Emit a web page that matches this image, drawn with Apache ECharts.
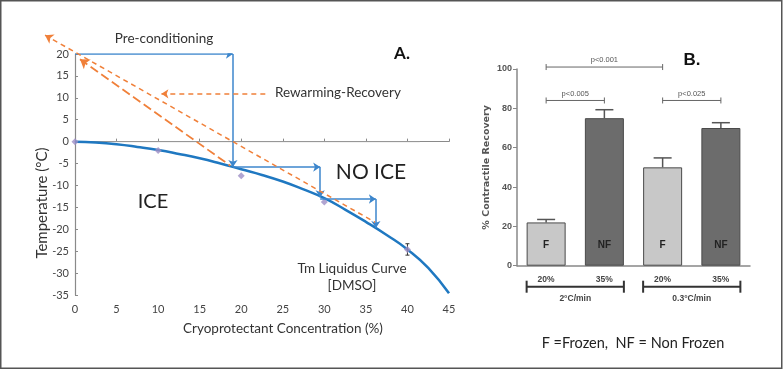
<!DOCTYPE html>
<html>
<head>
<meta charset="utf-8">
<script src="https://cdn.jsdelivr.net/npm/echarts@6/dist/echarts.min.js"></script>
<style>
  html, body { margin: 0; padding: 0; background: #fff; }
  #chart { width: 783px; height: 370px; }
</style>
</head>
<body>
<div id="chart"></div>
<script>
// ---- Panel A: liquidus curve (DMSO) ----
const curveX = [0, 2.5, 5, 7.5, 10, 12.5, 15, 17.5, 20, 22.5, 25, 27.5, 30, 32.5, 35, 37.5, 40, 42.5, 45];
const curveY = [0, -0.2, -0.6, -1.2, -1.9, -2.8, -3.8, -5.0, -6.3, -7.6, -9.1, -10.9, -12.9, -15.5, -18.3, -21.3, -24.6, -28.8, -34.6];
const measX = [0, 10, 20, 30, 40];
const measY = [0, -2, -7.8, -13.8, -24.6];
const measErr = [0, 0, 0, 0, 1.3];
// blue stepwise pre-conditioning path [x1, y1, x2, y2]
const stepSegs = [
  [0, 20, 19, 20],
  [19, 20, 19, -5.8],
  [19, -5.8, 29.5, -5.8],
  [29.5, -5.8, 29.5, -12.7],
  [29.5, -13.1, 36.2, -13.1],
  [36.2, -13.1, 36.2, -19.7]
];
// orange rewarming lines [x1, y1, x2, y2], arrow at the first point
const warmShort = [-3.6, 24.3, 36.1, -18.4];
const warmLong = [0.6, 18.8, 18.7, -5.5];
const warmLabelArrow = [22.9, 10.9, 10.4, 10.9];
const zeroLine = [[0, 0], [41.5, 0]];

// ---- Panel B: contractile recovery ----
const barCats = ['20%', '35%', '20%', '35%'];
const barMeans = [22, 75, 50, 70];
const barErrs = [1.5, 4.3, 4.8, 2.7];
const barLetters = ['F', 'NF', 'F', 'NF'];
const barFrozen = [true, false, true, false];
const groupNames = ['2°C/min', '0.3°C/min'];
const sigFrom = [0, 0, 2];
const sigTo = [2, 1, 3];
const sigY = [101, 84, 84];
const sigText = ['p<0.001', 'p<0.005', 'p<0.025'];

const FONT_A = 'Lato, "Open Sans", sans-serif';
const FONT_B = 'Arial, "Liberation Sans", sans-serif';
const FONT_B_WIDE = '"DejaVu Sans", Arial, sans-serif';
const BAR_W = 39;

const chart = echarts.init(document.getElementById('chart'));

const seg = (s) => ({ coords: [[s[0], s[1]], [s[2], s[3]]] });

chart.setOption({
  animation: false,
  grid: [
    { left: 75, right: 334, top: 54, bottom: 75 },
    { left: 517, right: 33, top: 69, bottom: 104.3 }
  ],
  xAxis: [
    {
      gridIndex: 0, type: 'value', min: 0, max: 45, interval: 5,
      axisLine: { lineStyle: { color: '#8a8a8a', width: 1.2 } },
      axisTick: { inside: true, length: 3, lineStyle: { color: '#8a8a8a' } },
      axisLabel: { color: '#444', fontSize: 11, fontFamily: FONT_A, margin: 9 },
      splitLine: { show: false }
    },
    {
      gridIndex: 1, type: 'category', data: barCats,
      axisLine: { lineStyle: { color: '#888', width: 1.5 } },
      axisTick: { show: false },
      axisLabel: { color: '#444', fontSize: 8.5, fontWeight: 'bold', fontFamily: FONT_B, margin: 9 }
    }
  ],
  yAxis: [
    {
      gridIndex: 0, type: 'value', min: -35, max: 20, interval: 5,
      axisLine: { show: true, lineStyle: { color: '#8a8a8a', width: 1.2 } },
      axisTick: { show: true, inside: true, length: 3, lineStyle: { color: '#8a8a8a' } },
      axisLabel: { color: '#444', fontSize: 11, fontFamily: FONT_A, margin: 6 },
      splitLine: { show: false }
    },
    {
      gridIndex: 1, type: 'value', min: 0, max: 100, interval: 20,
      name: '% Contractile Recovery', nameLocation: 'middle', nameGap: 25,
      nameTextStyle: { color: '#555', fontSize: 9.5, fontWeight: 'bold', fontFamily: FONT_B_WIDE },
      axisLine: { show: true, lineStyle: { color: '#888', width: 1.5 } },
      axisTick: { show: true, length: 4, lineStyle: { color: '#888' } },
      axisLabel: { color: '#555', fontSize: 9, fontWeight: 'bold', fontFamily: FONT_B, margin: 5 },
      splitLine: { show: false }
    }
  ],
  series: [
    {
      type: 'line', xAxisIndex: 0, yAxisIndex: 0, data: zeroLine,
      showSymbol: false, lineStyle: { color: '#9a9a9a', width: 1 }, z: 1
    },
    {
      type: 'line', xAxisIndex: 0, yAxisIndex: 0, smooth: true,
      data: curveX.map((x, i) => [x, curveY[i]]),
      showSymbol: false, lineStyle: { color: '#1f78c1', width: 2.5 }, z: 3
    },
    {
      type: 'scatter', xAxisIndex: 0, yAxisIndex: 0, symbol: 'diamond', symbolSize: 7,
      data: measX.map((x, i) => [x, measY[i]]),
      itemStyle: { color: '#9d8fc6' }, z: 4
    },
    {
      type: 'custom', xAxisIndex: 0, yAxisIndex: 0, z: 4,
      data: measX.map((x, i) => [x, measY[i], measErr[i]]).filter(d => d[2] > 0),
      renderItem: (params, api) => {
        const lo = api.coord([api.value(0), api.value(1) - api.value(2)]);
        const hi = api.coord([api.value(0), api.value(1) + api.value(2)]);
        const st = { stroke: '#333', lineWidth: 1 };
        return { type: 'group', children: [
          { type: 'line', shape: { x1: lo[0], y1: lo[1], x2: hi[0], y2: hi[1] }, style: st },
          { type: 'line', shape: { x1: lo[0] - 2, y1: lo[1], x2: lo[0] + 2, y2: lo[1] }, style: st },
          { type: 'line', shape: { x1: hi[0] - 2, y1: hi[1], x2: hi[0] + 2, y2: hi[1] }, style: st }
        ] };
      }
    },
    {
      type: 'lines', coordinateSystem: 'cartesian2d', xAxisIndex: 0, yAxisIndex: 0,
      data: stepSegs.map(seg), symbol: ['none', 'arrow'], symbolSize: 7,
      lineStyle: { color: '#3c86cc', width: 1.5, opacity: 1 }, z: 5
    },
    {
      type: 'lines', coordinateSystem: 'cartesian2d', xAxisIndex: 0, yAxisIndex: 0, clip: false,
      data: [seg(warmShort)], symbol: ['arrow', 'none'], symbolSize: 8,
      lineStyle: { color: '#f0803a', width: 1.5, type: [5, 4], opacity: 1 }, z: 5
    },
    {
      type: 'lines', coordinateSystem: 'cartesian2d', xAxisIndex: 0, yAxisIndex: 0, clip: false,
      data: [seg(warmLong)], symbol: ['arrow', 'none'], symbolSize: 9,
      lineStyle: { color: '#f0803a', width: 1.8, type: [9, 4], opacity: 1 }, z: 5
    },
    {
      type: 'lines', coordinateSystem: 'cartesian2d', xAxisIndex: 0, yAxisIndex: 0, clip: false,
      data: [seg(warmLabelArrow)], symbol: ['none', 'arrow'], symbolSize: 7,
      lineStyle: { color: '#f0803a', width: 1.5, type: [5, 4], opacity: 1 }, z: 5
    },

    // ---- Panel B ----
    {
      type: 'bar', xAxisIndex: 1, yAxisIndex: 1, barWidth: BAR_W,
      data: barMeans.map((v, i) => ({
        value: v,
        itemStyle: { color: barFrozen[i] ? '#c8c8c8' : '#6c6c6c', borderColor: '#4a4a4a', borderWidth: 1 }
      })),
      label: {
        show: true, position: 'insideBottom', distance: 15,
        formatter: (p) => barLetters[p.dataIndex],
        color: '#222', fontSize: 10, fontWeight: 'bold', fontFamily: FONT_B
      },
      z: 3
    },
    {
      type: 'custom', xAxisIndex: 1, yAxisIndex: 1, z: 2,
      data: barMeans.map((v, i) => [i, v, barErrs[i]]),
      renderItem: (params, api) => {
        const base = api.coord([api.value(0), api.value(1)]);
        const top = api.coord([api.value(0), api.value(1) + api.value(2)]);
        const st = { stroke: '#555', lineWidth: 1.5 };
        return { type: 'group', children: [
          { type: 'line', shape: { x1: base[0], y1: base[1], x2: top[0], y2: top[1] }, style: st },
          { type: 'line', shape: { x1: top[0] - 9, y1: top[1], x2: top[0] + 9, y2: top[1] }, style: st }
        ] };
      }
    },
    {
      type: 'custom', xAxisIndex: 1, yAxisIndex: 1, clip: false, z: 4,
      data: sigFrom.map((f, i) => [f, sigTo[i], sigY[i]]),
      encode: { x: [0, 1], y: 2 },
      renderItem: (params, api) => {
        const a = api.coord([api.value(0), api.value(2)]);
        const b = api.coord([api.value(1), api.value(2)]);
        const st = { stroke: '#666', lineWidth: 1 };
        return { type: 'group', children: [
          { type: 'line', shape: { x1: a[0], y1: a[1], x2: b[0], y2: b[1] }, style: st },
          { type: 'line', shape: { x1: a[0], y1: a[1] - 3, x2: a[0], y2: a[1] + 3 }, style: st },
          { type: 'line', shape: { x1: b[0], y1: b[1] - 3, x2: b[0], y2: b[1] + 3 }, style: st },
          { type: 'text', x: (a[0] + b[0]) / 2, y: a[1] - 7,
            style: { text: sigText[params.dataIndex], fill: '#555', font: '7.5px ' + FONT_B, align: 'center', verticalAlign: 'middle' } }
        ] };
      }
    },
    {
      type: 'custom', xAxisIndex: 1, yAxisIndex: 1, clip: false, z: 4,
      data: [[0, 1, 0], [2, 3, 0]],
      encode: { x: [0, 1], y: 2 },
      renderItem: (params, api) => {
        const a = api.coord([api.value(0), api.value(2)]);
        const b = api.coord([api.value(1), api.value(2)]);
        const x1 = a[0] - BAR_W / 2, x2 = b[0] + BAR_W / 2, y = a[1] + 21;
        const st = { stroke: '#333', lineWidth: 2 };
        return { type: 'group', children: [
          { type: 'line', shape: { x1, y1: y, x2, y2: y }, style: st },
          { type: 'line', shape: { x1, y1: y - 6, x2: x1, y2: y + 6 }, style: st },
          { type: 'line', shape: { x1: x2, y1: y - 6, x2: x2, y2: y + 6 }, style: st },
          { type: 'text', x: (x1 + x2) / 2, y: y + 12,
            style: { text: groupNames[params.dataIndex], fill: '#444', font: 'bold 8.5px ' + FONT_B, align: 'center', verticalAlign: 'middle' } }
        ] };
      }
    }
  ],
  graphic: [
    { type: 'rect', shape: { x: 0.75, y: 0.75, width: 781, height: 367.5 },
      style: { fill: 'none', stroke: '#555', lineWidth: 1.5 } },
    { type: 'text', x: 42, y: 203, rotation: Math.PI / 2,
      style: { text: 'Temperature (°C)', fill: '#333', font: '15px ' + FONT_A, align: 'center', verticalAlign: 'middle' } },
    { type: 'text', x: 283, y: 329,
      style: { text: 'Cryoprotectant Concentration (%)', fill: '#333', font: '13.5px ' + FONT_A, align: 'center', verticalAlign: 'middle' } },
    { type: 'text', x: 164, y: 39,
      style: { text: 'Pre-conditioning', fill: '#333', font: '13.5px ' + FONT_A, align: 'center', verticalAlign: 'middle' } },
    { type: 'text', x: 275, y: 93,
      style: { text: 'Rewarming-Recovery', fill: '#333', font: '13.5px ' + FONT_A, align: 'left', verticalAlign: 'middle' } },
    { type: 'text', x: 402, y: 54,
      style: { text: 'A.', fill: '#111', font: 'bold 17px ' + FONT_A, align: 'center', verticalAlign: 'middle' } },
    { type: 'text', x: 371, y: 172,
      style: { text: 'NO ICE', fill: '#222', font: '21px ' + FONT_A, align: 'center', verticalAlign: 'middle' } },
    { type: 'text', x: 153, y: 202,
      style: { text: 'ICE', fill: '#222', font: '20px ' + FONT_A, align: 'center', verticalAlign: 'middle' } },
    { type: 'text', x: 352, y: 269,
      style: { text: 'Tm Liquidus Curve', fill: '#333', font: '13.5px ' + FONT_A, align: 'center', verticalAlign: 'middle' } },
    { type: 'text', x: 352, y: 286,
      style: { text: '[DMSO]', fill: '#333', font: '13.5px ' + FONT_A, align: 'center', verticalAlign: 'middle' } },
    { type: 'text', x: 692, y: 60,
      style: { text: 'B.', fill: '#111', font: 'bold 17px ' + FONT_B, align: 'center', verticalAlign: 'middle' } },
    { type: 'text', x: 633, y: 343,
      style: { text: 'F =Frozen,  NF = Non Frozen', fill: '#222', font: '14.5px ' + FONT_A, align: 'center', verticalAlign: 'middle' } }
  ]
});
</script>
</body>
</html>
